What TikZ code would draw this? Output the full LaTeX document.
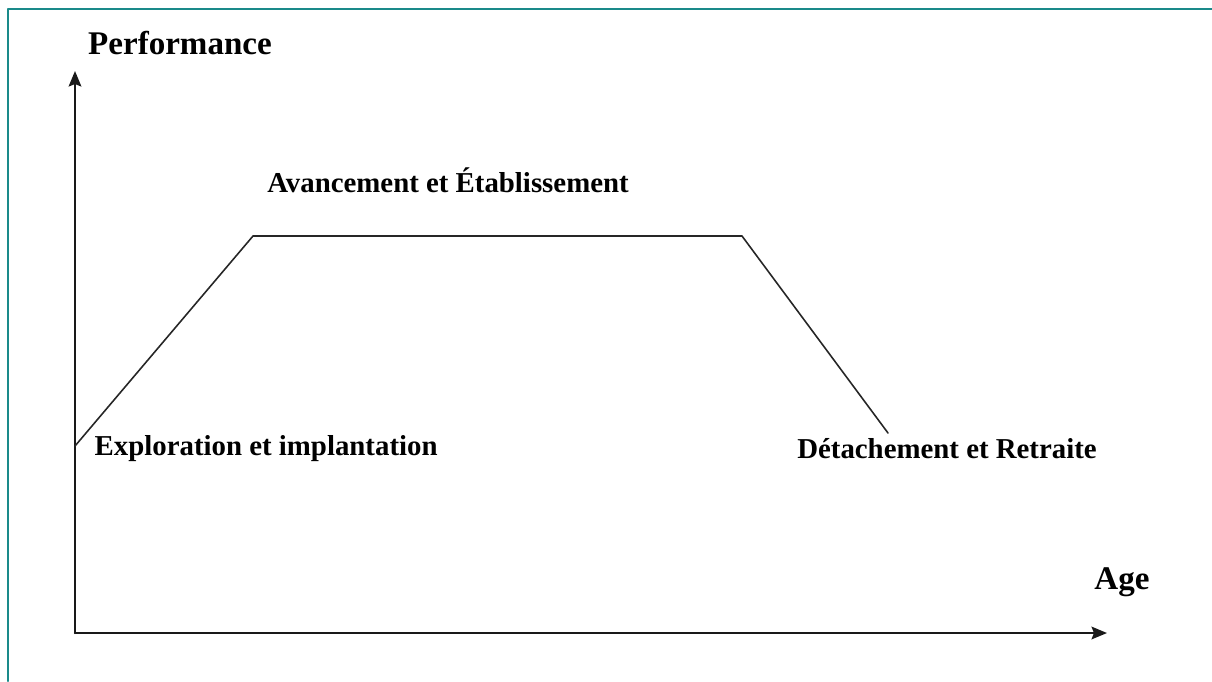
\documentclass[tikz,border=0pt]{standalone}
\usepackage{fontspec}
\setmainfont{Liberation Serif}
\usetikzlibrary{arrows.meta}
\definecolor{bordure}{HTML}{1A8A8A}
\tikzset{
	etiquette/.style={font=\fontsize{8.2}{10}\selectfont\bfseries, inner sep=0pt},
	titre/.style={font=\fontsize{9.4}{11}\selectfont\bfseries, inner sep=0pt},
}
\begin{document}
\begin{tikzpicture}[x=0.01cm, y=-0.01cm, line join=round, line cap=round, >={Stealth[length=4.4pt,width=3.6pt,inset=0.7pt]}]
			\useasboundingbox (0,0) rectangle (1212,681);
			% Cadre
			\draw[bordure, line width=0.6pt] (8,681) -- (8,9) -- (1212,9);
			% Axes
			\coordinate (O) at (75,633);
			\coordinate (ytip) at (75,71);
			\coordinate (xtip) at (1107,633);
			\draw[->, line width=0.6pt, black!90] (O) -- (ytip);
			\draw[->, line width=0.6pt, black!90] (O) -- (xtip);
			\node[titre] (perf) at (180,43) {Performance};
			\node[titre] (age) at (1122,582) {Age};
			% Courbe
			\coordinate (A) at (75,446);
			\coordinate (B) at (253,236);
			\coordinate (C) at (742,236);
			\coordinate (D) at (888,433);
			\draw[line width=0.45pt, black!85] (A) -- (B) -- (C) -- (D);
			\node[etiquette, anchor=west] (explo) at (94,449) {Exploration et implantation};
			\node[etiquette] (avanc) at (448,180) {Avancement et Établissement};
			\node[etiquette] (detach) at (947,449) {Détachement et Retraite};
		\end{tikzpicture}
\end{document}
